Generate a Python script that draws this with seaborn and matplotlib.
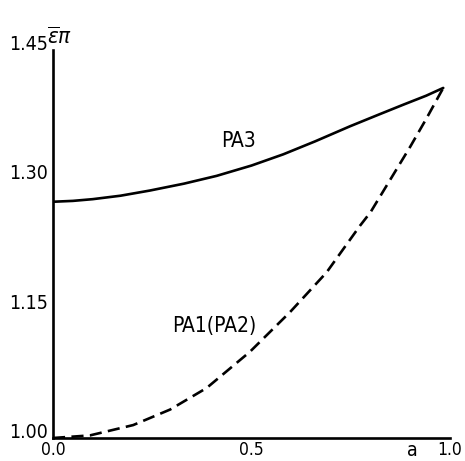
import matplotlib
matplotlib.use("Agg")
import matplotlib.pyplot as plt
import seaborn as sns
import pandas as pd

# data
a_pa3 = [0.0, 0.05, 0.10, 0.17, 0.244, 0.33, 0.412, 0.50, 0.58, 0.66, 0.748, 0.82, 0.882, 0.94, 0.983]
e_pa3 = [1.274, 1.275, 1.277, 1.281, 1.287, 1.295, 1.304, 1.316, 1.329, 1.344, 1.3615, 1.375, 1.3865, 1.397, 1.406]
a_pa1 = [0.0, 0.093, 0.202, 0.295, 0.387, 0.496, 0.597, 0.689, 0.773, 0.80, 0.85, 0.90, 0.94, 0.983]
e_pa1 = [1.000, 1.003, 1.015, 1.033, 1.058, 1.100, 1.146, 1.192, 1.246, 1.262, 1.300, 1.338, 1.370, 1.406]
yticks = [1.00, 1.15, 1.30, 1.45]
ytick_labels = ["1.00", "1.15", "1.30", "1.45"]
xticks = [0.0, 0.5, 1.0]
xtick_labels = ["0.0", "0.5", "1.0"]

sns.set_style("white")
plt.rcParams["font.family"] = ["DejaVu Sans"]
plt.rcParams["font.stretch"] = "condensed"
plt.rcParams["text.color"] = "black"
plt.rcParams["xtick.color"] = "black"
plt.rcParams["ytick.color"] = "black"
plt.rcParams["xtick.labelcolor"] = "black"
plt.rcParams["ytick.labelcolor"] = "black"

fig = plt.figure(figsize=(4.65, 4.61), dpi=100)
ax = fig.add_axes([53 / 465, 23 / 461, 397 / 465, 388 / 461])

df3 = pd.DataFrame({"a": a_pa3, "e": e_pa3})
df1 = pd.DataFrame({"a": a_pa1, "e": e_pa1})
sns.lineplot(data=df3, x="a", y="e", ax=ax, color="black", lw=1.9, sort=True)
sns.lineplot(data=df1, x="a", y="e", ax=ax, color="black", lw=1.9, sort=True)
ax.lines[-1].set_dashes((4.6, 2.4))

ax.set_xlim(0, 1.0)
ax.set_ylim(1.0, 1.45)
ax.set_xlabel("")
ax.set_ylabel("")
for s in ["top", "right"]:
    ax.spines[s].set_visible(False)
for s in ["left", "bottom"]:
    ax.spines[s].set_linewidth(1.9)
    ax.spines[s].set_color("black")

ax.set_yticks(yticks)
ax.set_yticklabels(ytick_labels, fontsize=14)
ax.set_xticks(xticks)
ax.set_xticklabels(xtick_labels, fontsize=12.5)
ax.tick_params(axis="y", direction="inout", length=5, width=1.2, color="black",
               pad=1)
ax.tick_params(axis="x", direction="inout", length=5, width=1.2, color="black",
               pad=0)
for lab in ax.get_yticklabels():
    lab.set_va("baseline")

ax.text(0.467, 1.344, "PA3", fontsize=15, ha="center", va="center")
ax.text(0.407, 1.130, "PA1(PA2)", fontsize=15, ha="center", va="center")
ax.text(0.905, -0.008, "a", fontsize=14, ha="center", va="top",
        transform=ax.get_xaxis_transform())
fig.text(47 / 465, 1 - 44 / 461, r"$\overline{\varepsilon}\pi$", fontsize=16,
         ha="left", va="baseline")

fig.savefig("out.png", dpi=100)
